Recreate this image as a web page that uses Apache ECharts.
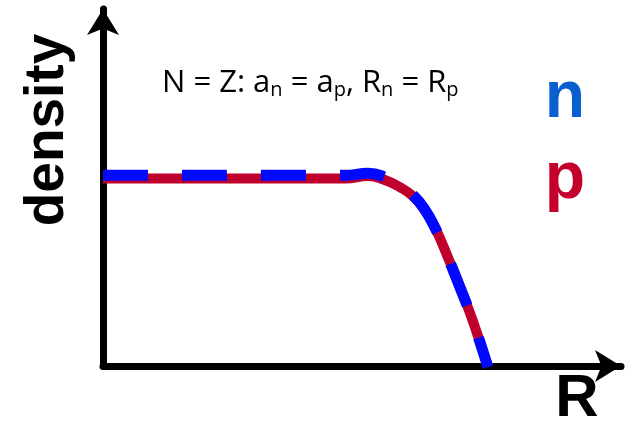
<!DOCTYPE html>
<html>
<head>
<meta charset="utf-8">
<script src="https://cdn.jsdelivr.net/npm/echarts@6/dist/echarts.min.js"></script>
<style>
  html, body { margin: 0; padding: 0; background: #fff; }
  #chart { width: 633px; height: 424px; }
</style>
</head>
<body>
<div id="chart"></div>
<script>
// radius (arbitrary units) and densities
var radius = [0, 4.67, 5.12, 5.44, 5.73, 5.98, 6.20, 6.41, 6.64, 6.89, 7.14, 7.43]
var protonDensity = [0.525, 0.525, 0.532, 0.521, 0.501, 0.476, 0.440, 0.387, 0.311, 0.221, 0.126, -0.003]
var neutronDensity = [0.534, 0.534, 0.540, 0.529, 0.506, 0.479, 0.441, 0.387, 0.311, 0.221, 0.126, -0.003]

var titleParts = ['N = Z: a', 'n', ' = a', 'p', ', R', 'n', ' = R', 'p']

function pairs (xs, ys) {
  return xs.map(function (x, i) { return [x, ys[i]] })
}

var richTitle = titleParts.map(function (t, i) {
  return (i % 2 === 0 ? '{a|' : '{s|') + t + '}'
}).join('')

var axisCommon = {
  type: 'value',
  splitLine: { show: false },
  axisTick: { show: false },
  axisLabel: { show: false },
  axisLine: {
    show: true,
    onZero: false,
    symbol: ['none', 'arrow'],
    symbolSize: [24, 26],
    lineStyle: { color: '#000', width: 7 }
  }
}

var myChart = echarts.init(document.getElementById('chart'))
var option = {
  animation: false,
  backgroundColor: '#fff',
  grid: { left: 103, right: 12, top: 9, bottom: 58 },
  title: {
    text: richTitle,
    left: 162,
    top: 66,
    padding: 0,
    textStyle: {
      fontWeight: 'normal',
      rich: {
        a: { fontFamily: 'Open Sans', fontWeight: 'normal', fontSize: 31, lineHeight: 34, color: '#000' },
        s: { fontFamily: 'Open Sans', fontWeight: 'normal', fontSize: 20, lineHeight: 14, verticalAlign: 'bottom', color: '#000' }
      }
    }
  },
  xAxis: Object.assign({}, axisCommon, { min: 0, max: 10 }),
  yAxis: Object.assign({}, axisCommon, { min: 0, max: 1 }),
  graphic: [
    { // y axis name
      type: 'text', x: 48, y: 130, rotation: Math.PI / 2,
      style: { text: 'density', font: 'bold 55px "Liberation Sans"', fill: '#000', align: 'center', verticalAlign: 'middle' }
    },
    { // x axis name
      type: 'text', x: 577, y: 399,
      style: { text: 'R', font: 'bold 60px "Liberation Sans"', fill: '#000', align: 'center', verticalAlign: 'middle' }
    },
    {
      type: 'text', x: 565, y: 99,
      style: { text: 'n', font: 'bold 66px "Liberation Sans"', fill: '#0a5fd0', align: 'center', verticalAlign: 'middle' }
    },
    {
      type: 'text', x: 565, y: 180,
      style: { text: 'p', font: 'bold 66px "Liberation Sans"', fill: '#c4002c', align: 'center', verticalAlign: 'middle' }
    }
  ],
  series: [
    {
      name: 'p',
      type: 'line',
      smooth: 0.5,
      symbol: 'none',
      lineStyle: { color: '#c0002c', width: 10 },
      data: pairs(radius, protonDensity)
    },
    {
      name: 'n',
      type: 'line',
      smooth: 0.5,
      symbol: 'none',
      lineStyle: { color: '#0008ff', width: 11, type: [45, 34] },
      data: pairs(radius, neutronDensity)
    }
  ]
}
myChart.setOption(option)
</script>
</body>
</html>
